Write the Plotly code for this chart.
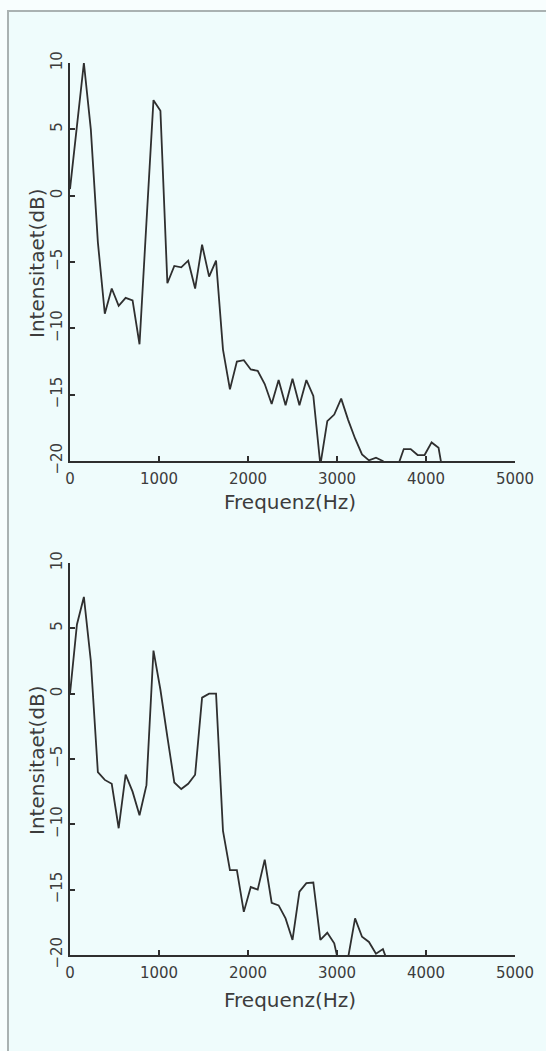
import plotly.graph_objects as go

# Frequency bins (Hz)
freq = [0, 78, 156, 234, 313, 391, 469, 547, 625, 703, 781, 859, 938, 1016,
        1094, 1172, 1250, 1328, 1406, 1484, 1563, 1641, 1719, 1797, 1875,
        1953, 2031, 2109, 2188, 2266, 2344, 2422, 2500, 2578, 2656, 2734,
        2813, 2891, 2969, 3047, 3125, 3203, 3281, 3359, 3438, 3516, 3594,
        3672, 3750, 3828, 3906, 3984, 4063, 4141, 4219]

# Upper spectrum (dB)
top_db = [0.5, 5.2, 10.0, 5.0, -3.5, -8.9, -7.0, -8.3, -7.7, -7.9, -11.2,
          -2.0, 7.2, 6.4, -6.6, -5.3, -5.4, -4.9, -7.0, -3.7, -6.1, -4.9,
          -11.6, -14.6, -12.5, -12.4, -13.1, -13.2, -14.2, -15.7, -13.9,
          -15.8, -13.8, -15.8, -13.9, -15.1, -20.3, -17.0, -16.5, -15.3,
          -16.9, -18.3, -19.5, -19.95, -19.75, -20.0, -23.0, -20.6, -19.1,
          -19.1, -19.55, -19.55, -18.6, -19.0, -22.0]

# Lower spectrum (dB)
bottom_db = [0.0, 5.3, 7.4, 2.5, -6.0, -6.6, -6.9, -10.3, -6.2, -7.5, -9.3,
             -7.0, 3.3, 0.3, -3.3, -6.8, -7.3, -6.9, -6.2, -0.3, 0.0, 0.0,
             -10.5, -13.5, -13.5, -16.7, -14.8, -15.0, -12.7, -16.0, -16.2,
             -17.2, -18.85, -15.15, -14.5, -14.45, -18.85, -18.3, -19.1,
             -21.5, -20.2, -17.2, -18.6, -19.0, -19.9, -19.55, -21.0]

x_ticks = [0, 1000, 2000, 3000, 4000, 5000]
y_ticks = [-20, -15, -10, -5, 0, 5, 10]
x_title = "Frequenz(Hz)"
y_title = "Intensitaet(dB)"

W, H = 546, 1051
INK = "#2f2f2f"
TXT = "#3c3c3c"
FONT = "DejaVu Sans"

fig = go.Figure()
fig.add_trace(go.Scatter(x=freq[:len(top_db)], y=top_db, mode="lines",
                         line=dict(color=INK, width=1.8), xaxis="x", yaxis="y",
                         showlegend=False))
fig.add_trace(go.Scatter(x=freq[:len(bottom_db)], y=bottom_db, mode="lines",
                         line=dict(color=INK, width=1.8), xaxis="x2", yaxis="y2",
                         showlegend=False))

xd = [70 / W, 515 / W]
top_dom = [1 - 461 / H, 1 - 63 / H]
bot_dom = [1 - 955 / H, 1 - 563 / H]

def xaxis(anchor):
    return dict(domain=xd, range=[0, 5000], tickvals=x_ticks,
                ticktext=[str(v) for v in x_ticks], ticks="inside", ticklen=5,
                tickwidth=1.6, tickcolor=INK, showline=True, linecolor=INK,
                linewidth=2, showgrid=False, zeroline=False, anchor=anchor,
                automargin=False,
                tickfont=dict(family=FONT, size=15, color=TXT),
                ticklabelstandoff=3, fixedrange=True)

def yaxis(dom, anchor):
    return dict(domain=dom, range=[-20, 10], tickvals=y_ticks,
                ticktext=[("\u2212" + str(-v)) if v < 0 else str(v) for v in y_ticks],
                ticks="inside", ticklen=5, tickwidth=1.6, tickcolor=INK,
                showline=True, linecolor=INK, linewidth=2, showgrid=False,
                zeroline=False, anchor=anchor, tickangle=-90, automargin=False,
                tickfont=dict(family=FONT, size=15, color=TXT),
                ticklabelstandoff=0, fixedrange=True)

annotations = []
for ycen_px, xcen_px in [(502, 290), (1000, 290)]:
    annotations.append(dict(text=x_title, xref="paper", yref="paper",
                            x=xcen_px / W, y=1 - ycen_px / H, showarrow=False,
                            xanchor="center", yanchor="middle",
                            font=dict(family=FONT, size=20, color=TXT)))
for ycen_px in [263, 760]:
    annotations.append(dict(text=y_title, xref="paper", yref="paper",
                            x=37 / W, y=1 - ycen_px / H, showarrow=False,
                            textangle=-90, xanchor="center", yanchor="middle",
                            font=dict(family=FONT, size=20, color=TXT)))

fig.update_layout(
    width=W, height=H, margin=dict(l=0, r=0, t=0, b=0, autoexpand=False),
    paper_bgcolor="#f8fefe", plot_bgcolor="rgba(0,0,0,0)",
    xaxis=xaxis("y"), yaxis=yaxis(top_dom, "x"),
    xaxis2=xaxis("y2"), yaxis2=yaxis(bot_dom, "x2"),
    annotations=annotations,
    shapes=[dict(type="rect", xref="paper", yref="paper", layer="below",
                 x0=8 / W, x1=1.05, y0=-0.05, y1=1 - 11 / H,
                 line=dict(color="#aab2b2", width=2), fillcolor="#effcfc")],
)

fig.write_html("out.html")
